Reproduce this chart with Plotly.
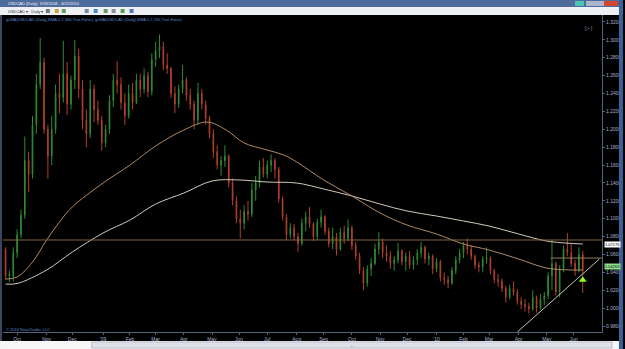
import plotly.graph_objects as go
import pandas as pd

# ---------------- data ----------------
# 3-trading-day bars starting 2008-09-18
opens = [1.066, 1.036, 1.035, 1.062, 1.082, 1.104, 1.165, 1.150, 1.205, 1.250,
         1.275, 1.200, 1.170, 1.200, 1.240, 1.235, 1.262, 1.228, 1.255, 1.282,
         1.245, 1.210, 1.195, 1.245, 1.222, 1.210, 1.185, 1.200, 1.232, 1.255,
         1.250, 1.230, 1.215, 1.240, 1.230, 1.255, 1.245, 1.260, 1.242, 1.278,
         1.288, 1.292, 1.272, 1.268, 1.240, 1.228, 1.245, 1.255, 1.238, 1.228,
         1.210, 1.240, 1.228, 1.212, 1.195, 1.175, 1.160, 1.165, 1.170, 1.140,
         1.120, 1.100, 1.095, 1.108, 1.105, 1.132, 1.140, 1.158, 1.150, 1.160,
         1.165, 1.155, 1.122, 1.102, 1.082, 1.090, 1.080, 1.072, 1.095, 1.102,
         1.094, 1.080, 1.096, 1.102, 1.086, 1.072, 1.080, 1.066, 1.085, 1.078,
         1.090, 1.070, 1.058, 1.042, 1.028, 1.044, 1.050, 1.066, 1.074, 1.062,
         1.058, 1.050, 1.054, 1.064, 1.052, 1.058, 1.048, 1.054, 1.062, 1.068,
         1.055, 1.058, 1.044, 1.052, 1.034, 1.032, 1.028, 1.042, 1.054, 1.062,
         1.070, 1.066, 1.058, 1.048, 1.046, 1.055, 1.056, 1.042, 1.032, 1.030,
         1.022, 1.012, 1.022, 1.018, 1.008, 1.004, 1.002, 0.999, 1.012, 1.000,
         1.010, 1.014, 1.036, 1.050, 1.018, 1.044, 1.066, 1.062, 1.050, 1.042,
         1.060]
highs = [1.068, 1.042, 1.068, 1.088, 1.110, 1.192, 1.175, 1.215, 1.262, 1.302,
         1.280, 1.205, 1.215, 1.250, 1.262, 1.299, 1.275, 1.260, 1.300, 1.290,
         1.255, 1.222, 1.255, 1.250, 1.232, 1.215, 1.205, 1.238, 1.262, 1.276,
         1.258, 1.240, 1.250, 1.252, 1.262, 1.262, 1.268, 1.264, 1.285, 1.298,
         1.306, 1.298, 1.285, 1.270, 1.248, 1.250, 1.272, 1.258, 1.245, 1.232,
         1.252, 1.245, 1.232, 1.215, 1.200, 1.182, 1.170, 1.182, 1.172, 1.145,
         1.125, 1.110, 1.115, 1.120, 1.140, 1.148, 1.165, 1.168, 1.165, 1.172,
         1.168, 1.158, 1.125, 1.105, 1.095, 1.094, 1.084, 1.100, 1.108, 1.113,
         1.096, 1.100, 1.110, 1.104, 1.090, 1.090, 1.084, 1.090, 1.092, 1.099,
         1.092, 1.074, 1.062, 1.046, 1.048, 1.056, 1.072, 1.085, 1.078, 1.070,
         1.064, 1.058, 1.073, 1.066, 1.062, 1.064, 1.058, 1.066, 1.074, 1.070,
         1.062, 1.060, 1.056, 1.054, 1.040, 1.036, 1.046, 1.058, 1.066, 1.074,
         1.078, 1.070, 1.060, 1.052, 1.058, 1.068, 1.058, 1.044, 1.038, 1.033,
         1.025, 1.026, 1.030, 1.021, 1.012, 1.010, 1.006, 1.020, 1.014, 1.016,
         1.018, 1.040, 1.076, 1.052, 1.048, 1.070, 1.084, 1.072, 1.054, 1.068,
         1.064]
lows = [1.032, 1.029, 1.030, 1.056, 1.078, 1.100, 1.130, 1.145, 1.195, 1.245,
        1.195, 1.145, 1.160, 1.195, 1.218, 1.230, 1.216, 1.222, 1.245, 1.235,
        1.200, 1.180, 1.190, 1.208, 1.205, 1.176, 1.180, 1.195, 1.225, 1.240,
        1.222, 1.205, 1.212, 1.222, 1.228, 1.236, 1.240, 1.236, 1.238, 1.270,
        1.280, 1.266, 1.262, 1.235, 1.218, 1.224, 1.240, 1.232, 1.222, 1.200,
        1.205, 1.222, 1.205, 1.190, 1.168, 1.155, 1.148, 1.158, 1.135, 1.115,
        1.095, 1.078, 1.088, 1.098, 1.102, 1.120, 1.135, 1.146, 1.145, 1.152,
        1.145, 1.118, 1.098, 1.076, 1.078, 1.076, 1.063, 1.070, 1.086, 1.090,
        1.075, 1.076, 1.090, 1.082, 1.068, 1.066, 1.059, 1.064, 1.072, 1.075,
        1.065, 1.054, 1.038, 1.020, 1.024, 1.036, 1.048, 1.060, 1.056, 1.052,
        1.044, 1.042, 1.050, 1.048, 1.042, 1.044, 1.043, 1.048, 1.056, 1.050,
        1.048, 1.038, 1.040, 1.030, 1.026, 1.022, 1.026, 1.038, 1.050, 1.056,
        1.060, 1.054, 1.044, 1.040, 1.040, 1.050, 1.038, 1.028, 1.024, 1.018,
        1.006, 1.010, 1.014, 1.004, 0.999, 0.996, 0.994, 0.997, 0.995, 0.998,
        1.003, 1.010, 1.020, 1.014, 1.012, 1.040, 1.058, 1.046, 1.036, 1.040,
        1.017]
closes = [1.036, 1.038, 1.062, 1.082, 1.104, 1.165, 1.150, 1.205, 1.250, 1.275,
          1.200, 1.170, 1.200, 1.240, 1.235, 1.262, 1.228, 1.255, 1.282, 1.245,
          1.210, 1.195, 1.245, 1.222, 1.210, 1.185, 1.200, 1.232, 1.255, 1.250,
          1.230, 1.215, 1.240, 1.230, 1.255, 1.245, 1.260, 1.242, 1.278, 1.288,
          1.292, 1.272, 1.268, 1.240, 1.228, 1.245, 1.255, 1.238, 1.228, 1.210,
          1.240, 1.228, 1.212, 1.195, 1.175, 1.160, 1.165, 1.170, 1.140, 1.120,
          1.100, 1.095, 1.108, 1.105, 1.132, 1.140, 1.158, 1.150, 1.160, 1.165,
          1.155, 1.122, 1.102, 1.082, 1.090, 1.080, 1.072, 1.095, 1.102, 1.094,
          1.080, 1.096, 1.102, 1.086, 1.072, 1.080, 1.066, 1.085, 1.078, 1.090,
          1.070, 1.058, 1.042, 1.028, 1.044, 1.050, 1.066, 1.074, 1.062, 1.058,
          1.050, 1.054, 1.064, 1.052, 1.058, 1.048, 1.054, 1.062, 1.068, 1.055,
          1.058, 1.044, 1.052, 1.034, 1.032, 1.028, 1.042, 1.054, 1.062, 1.070,
          1.066, 1.058, 1.048, 1.046, 1.055, 1.056, 1.042, 1.032, 1.030, 1.022,
          1.012, 1.022, 1.018, 1.008, 1.004, 1.002, 0.999, 1.012, 1.000, 1.010,
          1.014, 1.036, 1.050, 1.018, 1.044, 1.066, 1.062, 1.050, 1.042, 1.060,
          1.042]
bar_dates = pd.bdate_range("2008-09-18", periods=len(opens), freq="3B")

# moving averages
ma_fast_dates = ["2008-09-18", "2008-10-01", "2008-10-17", "2008-11-03", "2008-11-17",
                 "2008-12-01", "2009-01-02", "2009-02-02", "2009-03-02", "2009-04-01",
                 "2009-04-27", "2009-05-18", "2009-06-05", "2009-07-01", "2009-07-20",
                 "2009-08-03", "2009-09-01", "2009-10-01", "2009-11-02", "2009-12-01",
                 "2010-01-01", "2010-02-01", "2010-03-01", "2010-04-01", "2010-05-03",
                 "2010-06-01", "2010-06-10"]
ma_fast = [1.0325, 1.0348, 1.0515, 1.0762, 1.0963,
           1.1131, 1.1399, 1.1600, 1.1813, 1.1992,
           1.2081, 1.1992, 1.1847, 1.1768, 1.1712,
           1.1634, 1.1433, 1.1254, 1.1064, 1.0929,
           1.0829, 1.0717, 1.0650, 1.0549, 1.0448,
           1.0426, 1.0426]
ma_slow_dates = ["2008-09-18", "2008-10-01", "2008-11-03", "2008-12-01", "2009-01-02",
                 "2009-02-02", "2009-03-02", "2009-04-01", "2009-05-01", "2009-06-01",
                 "2009-07-01", "2009-08-03", "2009-09-01", "2009-10-01", "2009-11-02",
                 "2009-12-01", "2010-01-01", "2010-02-01", "2010-03-01", "2010-04-01",
                 "2010-05-03", "2010-06-01", "2010-06-10"]
ma_slow = [1.0269, 1.0275, 1.0426, 1.0627, 1.0840,
           1.0985, 1.1164, 1.1287, 1.1422, 1.1433,
           1.1410, 1.1399, 1.1332, 1.1254, 1.1164,
           1.1086, 1.1030, 1.0974, 1.0918, 1.0829,
           1.0750, 1.0722, 1.0717]

level_full = 1.0762
level_short = 1.0560
level_short_start = "2010-05-06"
trend_dates = ["2010-03-31", "2010-06-29"]
trend_prices = [0.9733, 1.0549]
signal_date = ["2010-06-10"]
signal_price = [1.0314]

month_dates = ["2008-10-01", "2008-11-03", "2008-12-01", "2009-01-02", "2009-02-02",
               "2009-03-02", "2009-04-01", "2009-05-01", "2009-06-01", "2009-07-01",
               "2009-08-03", "2009-09-01", "2009-10-01", "2009-11-02", "2009-12-01",
               "2010-01-01", "2010-02-01", "2010-03-01", "2010-04-01", "2010-05-03",
               "2010-06-01"]
month_labels = ["Oct", "Nov", "Dec", "'09", "Feb", "Mar", "Apr", "May", "Jun", "Jul",
                "Aug", "Sep", "Oct", "Nov", "Dec", "'10", "Feb", "Mar", "Apr", "May", "Jun"]
y_ticks = [0.98 + 0.02 * i for i in range(18)]
y_labels = ["%.4f" % v for v in y_ticks]

slow_tag = "1.07176"
fast_tag = "1.04263"

# ---------------- figure ----------------
W, H = 625, 349
ML, MR, MT, MB = 3, 21, 15, 17
PW, PH = W - ML - MR, H - MT - MB


def X(px):
    return (px - ML) / PW


def Y(py):
    return (H - MB - py) / PH


fig = go.Figure()
fig.add_trace(go.Candlestick(
    x=bar_dates, open=opens, high=highs, low=lows, close=closes,
    increasing=dict(line=dict(color="#2f8a32", width=1), fillcolor="#2f8a32"),
    decreasing=dict(line=dict(color="#b0402c", width=1), fillcolor="#b0402c"),
    whiskerwidth=0, showlegend=False, hoverinfo="skip"))
fig.add_trace(go.Scatter(x=ma_slow_dates, y=ma_slow, mode="lines",
                         line=dict(color="#cfcbba", width=1, shape="spline"),
                         showlegend=False, hoverinfo="skip"))
fig.add_trace(go.Scatter(x=ma_fast_dates, y=ma_fast, mode="lines",
                         line=dict(color="#b08a64", width=1, shape="spline"),
                         showlegend=False, hoverinfo="skip"))
fig.add_trace(go.Scatter(x=trend_dates, y=trend_prices, mode="lines",
                         line=dict(color="#c4c4b0", width=1),
                         showlegend=False, hoverinfo="skip"))
fig.add_trace(go.Scatter(x=signal_date, y=signal_price, mode="markers",
                         marker=dict(symbol="triangle-up", size=7, color="#8cff1e"),
                         showlegend=False, hoverinfo="skip"))

shapes = [
    dict(type="line", xref="paper", x0=0, x1=1, yref="y", y0=level_full, y1=level_full,
         line=dict(color="#86663a", width=1)),
    dict(type="line", xref="x", x0=level_short_start, x1="2010-07-01", yref="y",
         y0=level_short, y1=level_short, line=dict(color="#9a7a4e", width=1)),
]


def rect(x0, y0, x1, y1, color, line=None):
    d = dict(type="rect", xref="paper", yref="paper", x0=X(x0), x1=X(x1),
             y0=Y(y1), y1=Y(y0), fillcolor=color, layer="above",
             line=dict(width=0) if line is None else dict(color=line, width=1))
    return d


shapes += [
    rect(0, 0, 625, 7, "#4e6c9c"),
    rect(0, 7, 625, 15, "#eef0f4"),
    rect(0, 15, 2, 341, "#3a4660"),
    rect(621, 0, 625, 349, "#3b619a"),
    rect(0, 341, 621, 349, "#f6f6f6"),
    rect(92, 342, 614, 348, "#dfe1e6", "#b8bcc6"),
    rect(577, 1, 586, 6, "#4cc6b4"),
    rect(588, 1, 606, 6, "#a9b6cc"),
    rect(606, 1, 620, 6, "#d4452e"),
    rect(46, 9, 50, 13, "#707880"),
    rect(55, 9, 59, 13, "#c8a040"),
    rect(62, 9, 66, 13, "#60a060"),
    rect(85, 9, 89, 13, "#7a8aa0"),
    rect(94, 9, 98, 13, "#4c88c8"),
    rect(104, 9, 108, 13, "#60a060"),
    rect(112, 9, 116, 13, "#8a9098"),
    rect(121, 9, 125, 13, "#50a050"),
    rect(130, 9, 134, 13, "#4c78c0"),
]

font_small = dict(family="Liberation Sans, Arial, sans-serif", size=4, color="#5a88d8")
annotations = [
    dict(text="gcMA(USDCAD (Daily),EMA,1,7,366,True,False), gcMA(USDCAD (Daily),EMA,1,7,150,True,False)",
         xref="paper", yref="paper", x=X(4), y=Y(19), xanchor="left", yanchor="middle",
         showarrow=False, font=font_small),
    dict(text="© 2010 NinjaTrader, LLC", xref="paper", yref="paper", x=X(4), y=Y(329),
         xanchor="left", yanchor="middle", showarrow=False, font=font_small),
    dict(text="USDCAD (Daily)  9/18/2008 - 6/22/2010", xref="paper", yref="paper",
         x=X(6), y=Y(3.5), xanchor="left", yanchor="middle", showarrow=False,
         font=dict(family="Liberation Sans, Arial", size=4, color="#eef2fa")),
    dict(text="USDCAD ▾   Daily ▾", xref="paper", yref="paper",
         x=X(6), y=Y(11), xanchor="left", yanchor="middle", showarrow=False,
         font=dict(family="Liberation Sans, Arial", size=4, color="#303030")),
    dict(text="≡", xref="paper", yref="paper", x=X(353), y=Y(345.5), yanchor="middle",
         showarrow=False, borderpad=0, font=dict(size=3, color="#707070")),
    dict(text="▷|", xref="paper", yref="paper", x=X(597), y=Y(22), showarrow=False,
         font=dict(size=6, color="#9aa2b2")),
    dict(text=slow_tag, xref="paper", yref="y", x=X(606), y=ma_slow[-1], xanchor="left",
         showarrow=False, bgcolor="#ffffff", borderpad=0,
         font=dict(family="Liberation Sans, Arial", size=4, color="#000000")),
    dict(text=fast_tag, xref="paper", yref="y", x=X(606), y=ma_fast[-1], xanchor="left",
         yshift=4, showarrow=False, bgcolor="#8fe08f", borderpad=0,
         font=dict(family="Liberation Sans, Arial", size=4, color="#000000")),
]

axis_font = dict(family="Liberation Sans, Arial, sans-serif", size=5, color="#a8b4cc")
fig.update_layout(
    width=W, height=H,
    margin=dict(l=ML, r=MR, t=MT, b=MB),
    paper_bgcolor="#000000", plot_bgcolor="#000000",
    showlegend=False,
    boxgap=0.75,
    shapes=shapes, annotations=annotations,
    xaxis=dict(type="date", range=["2008-09-16", "2010-07-01"],
               rangebreaks=[dict(bounds=["sat", "mon"])],
               rangeslider=dict(visible=False),
               tickmode="array", tickvals=month_dates, ticktext=month_labels,
               tickfont=axis_font, showgrid=False, zeroline=False,
               showline=True, linecolor="#56627c", linewidth=1,
               ticks="outside", ticklen=2, tickcolor="#56627c"),
    yaxis=dict(side="right", range=[0.9733, 1.3278],
               tickmode="array", tickvals=y_ticks, ticktext=y_labels,
               tickfont=axis_font, showgrid=False, zeroline=False,
               showline=True, linecolor="#56627c", linewidth=1,
               ticks="outside", ticklen=2, tickcolor="#56627c"),
)

fig.write_html("out.html")
